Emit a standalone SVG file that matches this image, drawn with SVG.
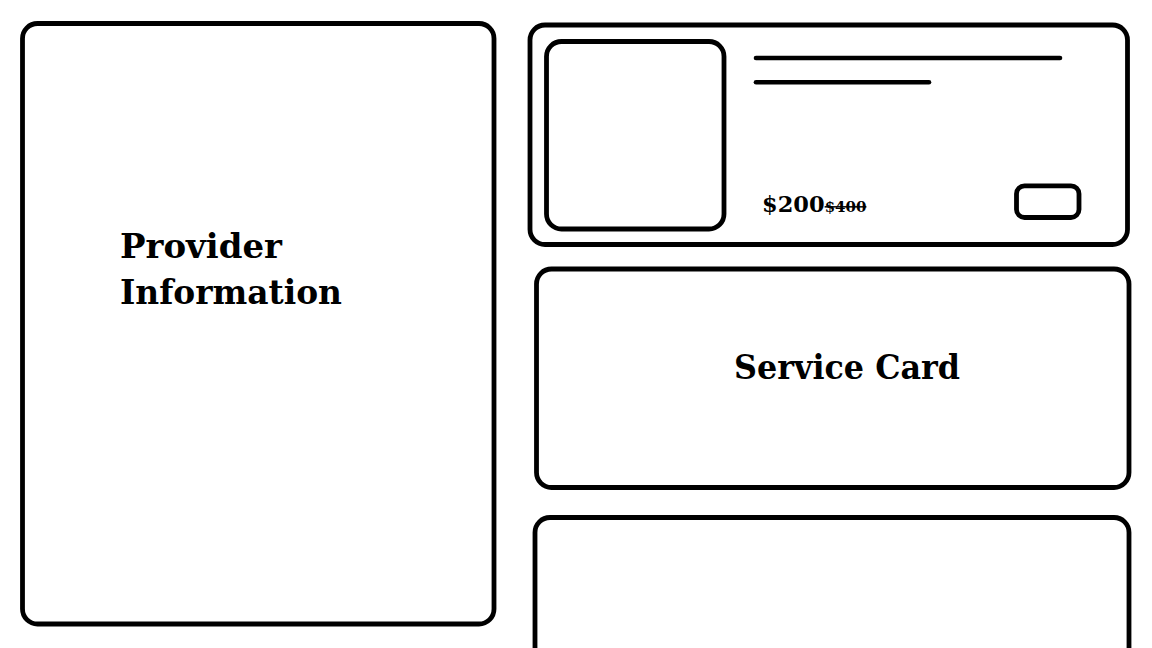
<svg xmlns="http://www.w3.org/2000/svg" width="1152" height="648" viewBox="0 0 1152 648">
<style>
.box{fill:none;stroke:#000;stroke-width:4.8}
.ln{stroke:#000;stroke-width:4.6;stroke-linecap:round}
.t{font-family:"DejaVu Serif","Liberation Serif",serif;font-weight:bold;fill:#000}
</style>
<rect width="1152" height="648" fill="#fff"/>
<g id="provider-info">
<rect class="box" x="22.5" y="23.5" width="471.5" height="600.5" rx="15"/>
<text class="t" x="120" y="258" font-size="34" textLength="162" lengthAdjust="spacingAndGlyphs">Provider</text>
<text class="t" x="120" y="304" font-size="34" textLength="222" lengthAdjust="spacingAndGlyphs">Information</text>
</g>
<g id="service-card-top">
<rect class="box" x="530" y="25" width="597.5" height="219.5" rx="15"/>
<rect class="box" x="546.5" y="41.5" width="177.5" height="187.5" rx="15"/>
<line class="ln" x1="756" y1="58" x2="1060" y2="58"/>
<line class="ln" x1="756" y1="82.3" x2="929" y2="82.3"/>
<text class="t" x="762" y="211.5" font-size="22.5">$200<tspan font-size="15" text-decoration="line-through">$400</tspan></text>
<rect class="box" x="1016.5" y="185.8" width="62.5" height="31.7" rx="8"/>
</g>
<g id="service-card">
<rect class="box" x="536.5" y="269" width="592.5" height="218.5" rx="15"/>
<text class="t" x="734" y="379" font-size="34" textLength="226" lengthAdjust="spacingAndGlyphs">Service Card</text>
</g>
<g id="service-card-bottom">
<rect class="box" x="535" y="517.5" width="594" height="200" rx="15"/>
</g>
<g id="connectors"/>
</svg>
